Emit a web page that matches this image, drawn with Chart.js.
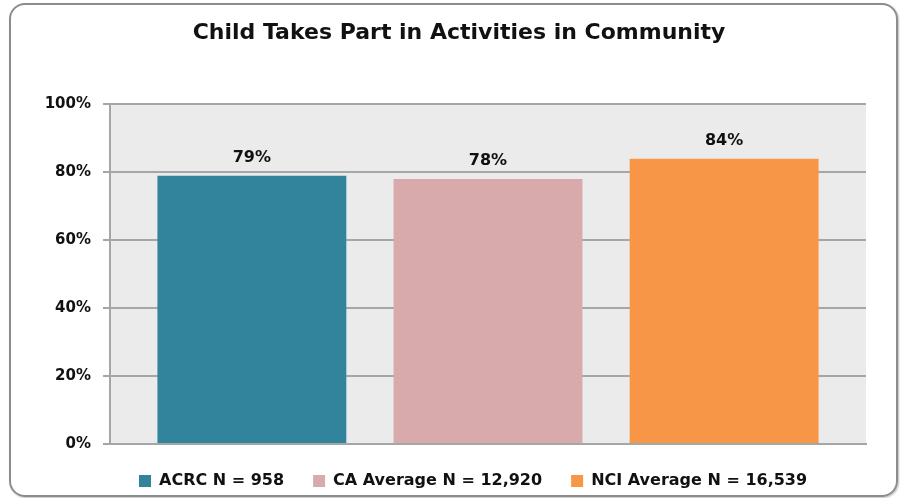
<!DOCTYPE html>
<html>
<head>
<meta charset="utf-8">
<script src="https://cdn.jsdelivr.net/npm/chart.js@4"></script>
<style>
  body { margin: 0; background: #fff; }
  #wrap { position: relative; width: 900px; height: 498px; overflow: hidden; }
  #frame {
    position: absolute; left: 9px; top: 3px; width: 885px; height: 490px;
    border: 2px solid #8c8c8c; border-radius: 16px; pointer-events: none;
    box-shadow: 1px 1px 2px rgba(0,0,0,0.25);
  }
  canvas { position: absolute; left: 0; top: 0; }
</style>
</head>
<body>
<div id="wrap">
  <canvas id="chart" width="900" height="498"></canvas>
  <div id="frame"></div>
</div>
<script>
// chart data
const seriesNames = ["ACRC N = 958", "CA Average N = 12,920", "NCI Average N = 16,539"];
const seriesValues = [79, 78, 84];
const seriesColors = ["#31849B", "#D9AAAB", "#F79646"];
const yTicks = [0, 20, 40, 60, 80, 100];

const FONT = "'DejaVu Sans', sans-serif";

// grey plot background
const plotBg = {
    id: 'plotBg',
    beforeDraw(chart) {
        const { ctx, chartArea: a } = chart;
        ctx.save();
        ctx.fillStyle = '#EBEBEB';
        ctx.fillRect(a.left, a.top, a.right - a.left, a.bottom - a.top);
        ctx.restore();
    }
};

// value labels above bars
const valueLabels = {
    id: 'valueLabels',
    afterDatasetsDraw(chart) {
        const ctx = chart.ctx;
        ctx.save();
        ctx.font = 'bold 16px ' + FONT;
        ctx.fillStyle = '#111';
        ctx.textAlign = 'center';
        ctx.textBaseline = 'alphabetic';
        chart.data.datasets.forEach((ds, i) => {
            const bar = chart.getDatasetMeta(i).data[0];
            ctx.fillText(ds.data[0] + '%', bar.x, bar.y - 14);
        });
        ctx.restore();
    }
};

new Chart(document.getElementById('chart'), {
    type: 'bar',
    data: {
        labels: [''],
        datasets: seriesNames.map((name, i) => ({
            label: name,
            data: [seriesValues[i]],
            backgroundColor: seriesColors[i],
            borderWidth: 0
        }))
    },
    options: {
        responsive: false,
        animation: false,
        categoryPercentage: 0.937,
        barPercentage: 0.8,
        layout: { padding: { left: 18, right: 0, top: 0, bottom: -1 } },
        plugins: {
            title: {
                display: true,
                text: 'Child Takes Part in Activities in Community',
                color: '#111',
                font: { family: FONT, size: 22, weight: 'bold' },
                padding: { top: 20, bottom: 58 }
            },
            legend: {
                position: 'bottom',
                align: 'start',
                fullSize: false,
                labels: {
                    color: '#111',
                    font: { family: FONT, size: 16, weight: 'bold' },
                    boxWidth: 12,
                    boxHeight: 12,
                    padding: 29
                }
            },
            tooltip: { enabled: false }
        },
        scales: {
            x: {
                afterFit(scale) { scale.height = 0; },
                ticks: { display: false },
                grid: { display: false },
                border: { color: '#A6A6A6', width: 2 }
            },
            y: {
                min: 0,
                max: 100,
                afterFit(scale) { scale.width = 92; },
                afterBuildTicks(scale) { scale.ticks = yTicks.map(v => ({ value: v })); },
                ticks: {
                    color: '#111',
                    font: { family: FONT, size: 15, weight: 'bold' },
                    padding: 12,
                    callback: v => v + '%'
                },
                grid: { color: '#A6A6A6', lineWidth: 2, tickLength: 7 },
                border: { color: '#A6A6A6', width: 2 }
            },
            // empty right axis, only reserves the right margin
            yRight: {
                position: 'right',
                afterFit(scale) { scale.width = 34; },
                ticks: { display: false },
                grid: { display: false },
                border: { display: false }
            }
        }
    },
    plugins: [plotBg, valueLabels]
});
</script>
</body>
</html>
